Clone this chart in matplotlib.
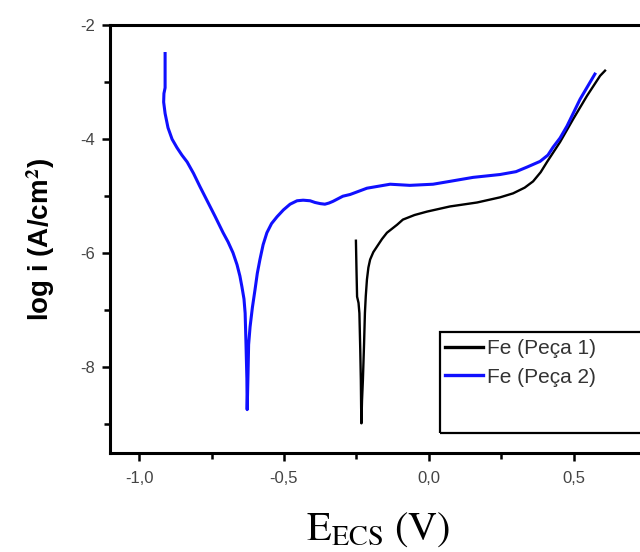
import matplotlib
matplotlib.use("Agg")
import matplotlib.pyplot as plt
from matplotlib.patches import Rectangle
from matplotlib.ticker import MultipleLocator

# ---- data ----
peca1_E = [-0.252, -0.250, -0.248, -0.243, -0.240, -0.237, -0.235, -0.234, -0.233,
           -0.231, -0.228, -0.224, -0.221, -0.218, -0.214, -0.209, -0.203, -0.192,
           -0.179, -0.162, -0.145, -0.110, -0.090, -0.050, -0.007, 0.072, 0.166,
           0.245, 0.290, 0.330, 0.359, 0.385, 0.407, 0.452, 0.497, 0.545, 0.590, 0.607]
peca1_logi = [-5.78, -6.30, -6.76, -6.87, -7.05, -7.70, -8.23, -8.70, -8.98,
              -8.58, -8.23, -7.60, -7.05, -6.75, -6.46, -6.25, -6.11, -5.98,
              -5.88, -5.75, -5.64, -5.50, -5.41, -5.33, -5.27, -5.18, -5.11,
              -5.02, -4.95, -4.85, -4.74, -4.58, -4.40, -4.05, -3.65, -3.24, -2.89, -2.80]

peca2_E = [-0.910, -0.910, -0.914, -0.915, -0.910, -0.900, -0.886, -0.869, -0.852,
           -0.834, -0.812, -0.790, -0.766, -0.738, -0.710, -0.693, -0.676, -0.662,
           -0.652, -0.645, -0.638, -0.634, -0.631, -0.628, -0.627, -0.624, -0.622,
           -0.617, -0.609, -0.600, -0.592, -0.583, -0.572, -0.559, -0.543, -0.524,
           -0.502, -0.479, -0.455, -0.434, -0.410, -0.393, -0.375, -0.359, -0.345,
           -0.331, -0.297, -0.272, -0.214, -0.134, -0.066, 0.014, 0.072, 0.152,
           0.245, 0.300, 0.338, 0.383, 0.410, 0.428, 0.452, 0.476, 0.521, 0.572]
peca2_logi = [-2.50, -3.10, -3.20, -3.35, -3.55, -3.80, -4.00, -4.15, -4.28,
              -4.40, -4.60, -4.83, -5.07, -5.35, -5.64, -5.80, -5.99, -6.20,
              -6.40, -6.59, -6.80, -7.05, -7.60, -8.20, -8.74, -8.10, -7.60,
              -7.29, -6.95, -6.64, -6.35, -6.11, -5.85, -5.64, -5.48, -5.36,
              -5.24, -5.14, -5.08, -5.07, -5.08, -5.11, -5.13, -5.14, -5.12,
              -5.09, -5.00, -4.97, -4.86, -4.79, -4.81, -4.79, -4.74, -4.67,
              -4.62, -4.57, -4.49, -4.39, -4.28, -4.14, -3.98, -3.77, -3.30, -2.86]

series_labels = ["Fe (Peça 1)", "Fe (Peça 2)"]
x_ticks = [-1.0, -0.5, 0.0, 0.5]
x_tick_labels = ["-1,0", "-0,5", "0,0", "0,5"]
y_ticks = [-2, -4, -6, -8]
y_tick_labels = ["-2", "-4", "-6", "-8"]

plt.rcParams["font.family"] = ["Liberation Sans", "DejaVu Sans"]
plt.rcParams["axes.unicode_minus"] = False
plt.rcParams["mathtext.fontset"] = "stix"

fig = plt.figure(figsize=(6.4, 5.52), dpi=100)
W, H = 640, 552
left_px, right_px, top_px, bot_px = 110, 646.5, 25, 453
ax = fig.add_axes([left_px / W, 1 - bot_px / H, (right_px - left_px) / W, (bot_px - top_px) / H])

l1, = ax.plot(peca1_E, peca1_logi, color="black", lw=1.7, label=series_labels[0],
              solid_joinstyle="round")
l2, = ax.plot(peca2_E, peca2_logi, color="#1010ff", lw=2.2, label=series_labels[1],
              solid_joinstyle="round")

ax.set_xlim(-1.1, 0.75)
ax.set_ylim(-9.5, -2)

ax.set_xticks(x_ticks)
ax.set_xticklabels(x_tick_labels)
ax.set_yticks(y_ticks)
ax.set_yticklabels(y_tick_labels)
ax.xaxis.set_minor_locator(MultipleLocator(0.25))
ax.yaxis.set_minor_locator(MultipleLocator(1))

for s in ax.spines.values():
    s.set_linewidth(2.2)

ax.tick_params(which="major", direction="out", length=6, width=1.8,
               labelsize=12, labelcolor="#444444", pad=5)
ax.tick_params(which="minor", direction="out", length=4, width=1.8)
ax.tick_params(axis="x", which="major", pad=7)

ax.set_ylabel("log i (A/cm$^\\mathbf{2}$)", fontsize=20, fontweight="bold")
ax.yaxis.set_label_coords(-0.099, 0.5)
ax.set_xlabel(r"$\mathrm{E_{ECS}\ (V)}$", fontsize=29)
ax.xaxis.set_label_coords(0.5, -0.135)

# legend
leg = ax.legend(handles=[l1, l2], loc="upper left", bbox_to_anchor=(0.624, 0.266),
                frameon=False, fontsize=15, handlelength=1.85, handletextpad=0.2,
                labelspacing=0.45, borderpad=0, borderaxespad=0)
for t in leg.get_texts():
    t.set_color("#333333")
for h in leg.legend_handles:
    h.set_linewidth(2.4)

ax.add_patch(Rectangle((0.615, 0.047), 0.5, 0.236, transform=ax.transAxes,
                       fill=False, edgecolor="black", lw=1.6, clip_on=False, zorder=5))

fig.savefig("out.png", dpi=100, facecolor="white")
